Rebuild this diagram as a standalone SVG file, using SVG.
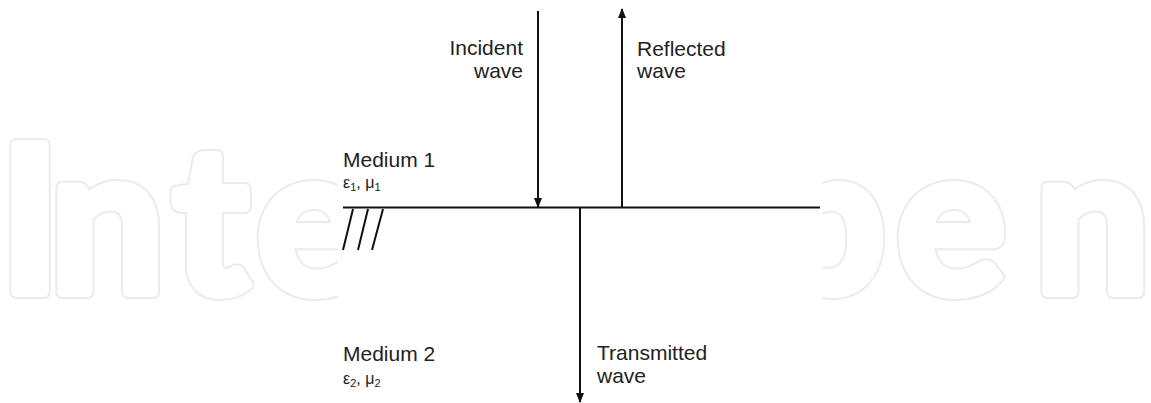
<svg xmlns="http://www.w3.org/2000/svg" width="1151" height="403" viewBox="0 0 1151 403">
<style>
.wm{font-family:Lato,"Noto Sans",sans-serif;font-weight:bold;font-size:203px;stroke-linejoin:round}
.wm-o{fill:none;stroke:#ebebeb;stroke-width:14}
.wm-i{fill:#fff;stroke:#fff;stroke-width:10}
.lbl{font-family:"Liberation Sans",Arial,sans-serif;font-size:21px;fill:#222}
.sym{font-family:"Liberation Sans",Arial,sans-serif;font-size:16px;fill:#222}
.sub{font-size:11px}
.ln{stroke:#111;stroke-width:2;fill:none}
</style>
<defs>
<marker id="ah" markerWidth="10" markerHeight="14" refX="9" refY="5" orient="auto" markerUnits="userSpaceOnUse" viewBox="0 0 10 10">
<path d="M0,1 L10,5 L0,9 Z" fill="#111"/>
</marker>
<clipPath id="wmclip">
<rect x="0" y="0" width="338" height="403"/>
<rect x="822" y="0" width="329" height="403"/>
</clipPath>
</defs>
<rect x="0" y="0" width="1151" height="403" fill="#fff"/>
<g id="watermark" clip-path="url(#wmclip)">
<text class="wm wm-o" x="0 50 173 257" y="292">Inte</text>
<text class="wm wm-o" x="770 897 1035" y="292">pen</text>
<text class="wm wm-i" x="0 50 173 257" y="292">Inte</text>
<text class="wm wm-i" x="770 897 1035" y="292">pen</text>
</g>
<rect x="338" y="0" width="484" height="403" fill="#fff"/>
<g id="interface">
<line class="ln" x1="343" y1="207.5" x2="820" y2="207.5"/>
<line class="ln" x1="353" y1="209" x2="343" y2="250" stroke-width="2.5"/>
<line class="ln" x1="368" y1="209" x2="358" y2="250" stroke-width="2.5"/>
<line class="ln" x1="383" y1="209" x2="372" y2="250" stroke-width="2.5"/>
</g>
<g id="connectors">
<line class="ln" x1="538" y1="11" x2="538" y2="207" marker-end="url(#ah)"/>
<line class="ln" x1="622" y1="207" x2="622" y2="9" marker-end="url(#ah)"/>
<line class="ln" x1="580" y1="208" x2="580" y2="402" marker-end="url(#ah)"/>
</g>
<g id="incident">
<text class="lbl" x="523" y="55" text-anchor="end">Incident</text>
<text class="lbl" x="523" y="78" text-anchor="end">wave</text>
</g>
<g id="reflected">
<text class="lbl" x="637" y="56">Reflected</text>
<text class="lbl" x="637" y="78">wave</text>
</g>
<g id="medium1">
<text class="lbl" x="343" y="167">Medium 1</text>
<text class="sym" x="343" y="188">ε<tspan class="sub" dy="3">1</tspan><tspan dy="-3">, μ</tspan><tspan class="sub" dy="3">1</tspan></text>
</g>
<g id="medium2">
<text class="lbl" x="343" y="361">Medium 2</text>
<text class="sym" x="343" y="384">ε<tspan class="sub" dy="3">2</tspan><tspan dy="-3">, μ</tspan><tspan class="sub" dy="3">2</tspan></text>
</g>
<g id="transmitted">
<text class="lbl" x="597" y="360">Transmitted</text>
<text class="lbl" x="597" y="383">wave</text>
</g>
</svg>
